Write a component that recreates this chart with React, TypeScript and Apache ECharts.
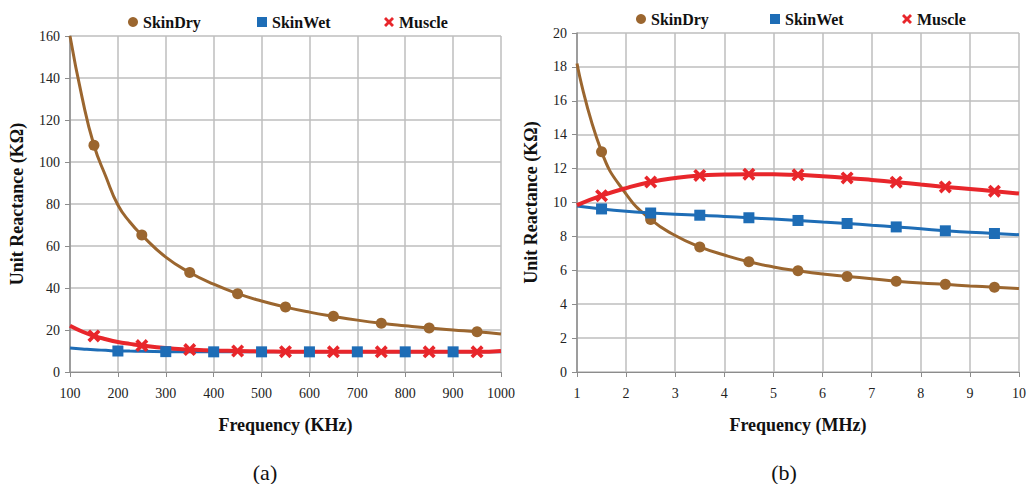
import React, { useEffect, useRef } from "react";
import * as echarts from "echarts";

// ---- Data: chart (a), frequency in KHz ----
const khz = [100, 125, 150, 175, 200, 225, 250, 300, 350, 400, 450, 500, 550, 600, 650, 700, 750, 800, 850, 900, 950, 1000];
const skinDryA = [160, 131, 108, 93, 79.5, 71.4, 65.2, 54.7, 47.4, 41.8, 37.3, 33.8, 30.9, 28.5, 26.5, 24.7, 23.2, 22.0, 20.9, 20.0, 19.2, 18.1];
const skinWetA = [11.4, 11.0, 10.6, 10.3, 10.0, 9.95, 9.9, 9.7, 9.6, 9.6, 9.6, 9.6, 9.6, 9.6, 9.6, 9.6, 9.6, 9.6, 9.6, 9.6, 9.6, 9.6];
const muscleA = [22, 19.3, 17.2, 15.6, 14.3, 13.4, 12.6, 11.4, 10.7, 10.2, 10.0, 9.8, 9.7, 9.6, 9.6, 9.6, 9.6, 9.6, 9.6, 9.6, 9.6, 10.0];
const skinDryMarkA = [150, 250, 350, 450, 550, 650, 750, 850, 950];
const skinWetMarkA = [200, 300, 400, 500, 600, 700, 800, 900];
const muscleMarkA = [150, 250, 350, 450, 550, 650, 750, 850, 950];

// ---- Data: chart (b), frequency in MHz ----
const mhz = [1, 1.5, 2, 2.5, 3, 3.5, 4, 4.5, 5, 5.5, 6, 6.5, 7, 7.5, 8, 8.5, 9, 9.5, 10];
const skinDryB = [18.2, 13.0, 10.5, 9.0, 8.05, 7.38, 6.9, 6.5, 6.2, 5.97, 5.78, 5.64, 5.5, 5.36, 5.25, 5.17, 5.08, 5.0, 4.92];
const skinWetB = [9.8, 9.62, 9.48, 9.38, 9.3, 9.25, 9.18, 9.1, 9.02, 8.94, 8.85, 8.76, 8.66, 8.56, 8.45, 8.33, 8.25, 8.17, 8.1];
const muscleB = [9.85, 10.4, 10.85, 11.21, 11.45, 11.6, 11.65, 11.67, 11.66, 11.63, 11.55, 11.45, 11.33, 11.2, 11.06, 10.92, 10.8, 10.67, 10.53];
const markB = [1.5, 2.5, 3.5, 4.5, 5.5, 6.5, 7.5, 8.5, 9.5];

const seriesNames = ["SkinDry", "SkinWet", "Muscle"];
const xTitleA = "Frequency (KHz)";
const xTitleB = "Frequency (MHz)";
const yTitle = "Unit Reactance (KΩ)";
const panelLabels = ["(a)", "(b)"];

const BROWN = "#9B662F";
const BLUE = "#1E6DB6";
const RED = "#E8262B";
const CROSS = "path://M2,0 L5,3 L8,0 L10,2 L7,5 L10,8 L8,10 L5,7 L2,10 L0,8 L3,5 L0,2 Z";

const SERIF = "'Liberation Serif'";

function build(xs: number[], ys: number[], marks: number[], symbol: string) {
  return xs.map((x, i) =>
    marks.includes(x) ? { value: [x, ys[i]], symbol } : { value: [x, ys[i]], symbol: "none" }
  );
}

function mkX(gridIndex: number, min: number, max: number, interval: number, name: string) {
  return {
    type: "value",
    gridIndex,
    min,
    max,
    interval,
    name,
    nameLocation: "middle",
    nameGap: 44,
    nameTextStyle: { fontFamily: SERIF, fontWeight: "bold", fontSize: 18, color: "#111" },
    axisLine: { show: true, lineStyle: { color: "#8C8C8C", width: 1 } },
    axisTick: { show: true, length: 5, lineStyle: { color: "#8C8C8C" } },
    axisLabel: {
      fontFamily: SERIF,
      fontSize: 14,
      color: "#222",
      margin: 14,
      formatter: (v: number) => String(v),
    },
    splitLine: { show: true, lineStyle: { color: "#BEBEBE", width: 1.5 } },
  };
}

function mkY(gridIndex: number, max: number, interval: number, gap: number) {
  return {
    type: "value",
    gridIndex,
    min: 0,
    max,
    interval,
    name: yTitle,
    nameLocation: "middle",
    nameRotate: 90,
    nameGap: gap,
    nameTextStyle: { fontFamily: SERIF, fontWeight: "bold", fontSize: 18, color: "#111" },
    axisLine: { show: true, lineStyle: { color: "#8C8C8C", width: 1.5 } },
    axisTick: { show: true, length: 5, lineStyle: { color: "#8C8C8C" } },
    axisLabel: { fontFamily: SERIF, fontSize: 14, color: "#222", margin: 10 },
    splitLine: { show: true, lineStyle: { color: "#BEBEBE", width: 1.5 } },
  };
}

function legendItem(name: string, icon: string, left: number, top: number) {
  return {
    left,
    top,
    itemWidth: 10,
    itemHeight: 10,
    padding: 0,
    data: [{ name, icon }],
    textStyle: { fontFamily: SERIF, fontWeight: "bold", fontSize: 16, color: "#111" },
    selectedMode: false,
  };
}

export default function App() {
  const ref = useRef<HTMLDivElement>(null);
  useEffect(() => {
    if (!ref.current) return;
    const chart = echarts.init(ref.current, undefined, { renderer: "svg" });
    const line = (
      name: string,
      idx: number,
      data: any[],
      color: string,
      width: number,
      symbol: string,
      size: number
    ) => ({
      type: "line",
      name,
      xAxisIndex: idx,
      yAxisIndex: idx,
      data,
      smooth: true,
      symbol,
      symbolSize: size,
      showAllSymbol: true,
      lineStyle: { color, width },
      itemStyle: { color, borderWidth: 0 },
      emphasis: { disabled: true },
    });
    chart.setOption({
      animation: false,
      backgroundColor: "#fff",
      textStyle: { fontFamily: SERIF },
      grid: [
        { left: 70, top: 36, width: 431, height: 336 },
        { left: 577, top: 33, width: 442, height: 339 },
      ],
      xAxis: [mkX(0, 100, 1000, 100, xTitleA), mkX(1, 1, 10, 1, xTitleB)],
      yAxis: [mkY(0, 160, 20, 44), mkY(1, 20, 2, 37)],
      legend: [
        legendItem(seriesNames[0], "circle", 128, 14),
        legendItem(seriesNames[1], "rect", 257, 14),
        legendItem(seriesNames[2], CROSS, 384, 14),
        legendItem(seriesNames[0], "circle", 636, 11),
        legendItem(seriesNames[1], "rect", 770, 11),
        legendItem(seriesNames[2], CROSS, 902, 11),
      ],
      series: [
        line(seriesNames[0], 0, build(khz, skinDryA, skinDryMarkA, "circle"), BROWN, 3, "circle", 11),
        line(seriesNames[1], 0, build(khz, skinWetA, skinWetMarkA, "rect"), BLUE, 3, "rect", 11),
        line(seriesNames[2], 0, build(khz, muscleA, muscleMarkA, CROSS), RED, 4, CROSS, 13),
        line(seriesNames[0], 1, build(mhz, skinDryB, markB, "circle"), BROWN, 3, "circle", 11),
        line(seriesNames[1], 1, build(mhz, skinWetB, markB, "rect"), BLUE, 3, "rect", 11),
        line(seriesNames[2], 1, build(mhz, muscleB, markB, CROSS), RED, 4, CROSS, 13),
      ],
      graphic: [
        {
          type: "text",
          x: 265,
          y: 472,
          style: {
            text: panelLabels[0],
            font: "22px 'Liberation Serif'",
            fill: "#111",
            textAlign: "center",
            textVerticalAlign: "middle",
          },
        },
        {
          type: "text",
          x: 784,
          y: 472,
          style: {
            text: panelLabels[1],
            font: "22px 'Liberation Serif'",
            fill: "#111",
            textAlign: "center",
            textVerticalAlign: "middle",
          },
        },
      ],
    });
    return () => chart.dispose();
  }, []);
  return (
    <div
      ref={ref}
      style={{ position: "fixed", left: 0, top: 0, width: 1034, height: 484, background: "#fff" }}
    />
  );
}
